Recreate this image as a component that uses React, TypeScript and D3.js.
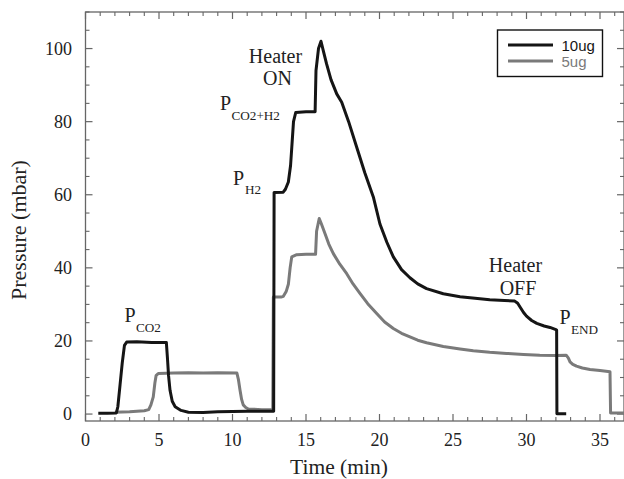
import React from "react";
import * as d3 from "d3";

const t10 = [0.87,1.5,2.1,2.2,2.35,2.5,2.65,2.8,3.5,4.5,5.5,5.58,5.65,5.75,5.9,6.1,6.5,7.0,8.0,9.0,10.0,11.0,12.0,12.8,12.83,13.45,13.6,13.8,13.95,14.05,14.15,14.3,15.0,15.62,15.68,15.85,16.02,16.2,16.4,16.7,17.09,17.43,17.9,18.45,19.0,19.58,20.03,20.5,20.94,21.5,22.07,22.6,23.2,24.34,25.48,26.5,27.5,28.5,29.2,29.4,29.56,29.8,30.0,30.35,30.7,31.2,31.6,32.0,32.05,32.07,32.7];
const p10 = [0.2,0.2,0.3,2,8,14,18.8,19.7,19.8,19.6,19.6,15,10.5,6.5,3.5,2,1,0.5,0.4,0.6,0.7,0.8,0.8,0.8,60.6,60.7,61.5,63.5,68,74,80,82.5,82.7,82.7,94,100,102,99,95.8,91.5,87.6,85.3,80,73,66,59.4,52,47,43,39.5,37.3,35.6,34.3,32.9,32.1,31.7,31.3,31.1,30.9,30.3,29.3,27.8,26.8,25.6,24.8,24.1,23.7,23.1,23,0.1,0.1];

const t5 = [2.0,3.0,4.0,4.3,4.45,4.61,4.72,4.8,4.95,6,7,8,9,10.3,10.4,10.51,10.62,10.73,10.9,11.08,12.0,12.74,12.78,13.3,13.46,13.65,13.8,13.92,14.03,14.37,15.0,15.65,15.72,15.9,16.05,16.29,16.55,16.86,17.3,17.77,18.2,18.67,19.2,19.81,20.35,20.94,21.5,22.07,22.6,23.2,24.34,25.48,26.38,27.5,28.65,29.8,30.9,32.0,32.7,32.85,32.96,33.15,33.4,33.8,34.32,35.0,35.68,35.72,36.7];
const p5 = [0.5,0.6,0.9,1.2,2.5,4.7,8.5,10.5,11.1,11.2,11.3,11.2,11.3,11.2,9.5,6.6,4,2.5,1.8,1.4,1.2,1.2,32,32,32.2,33.5,35.5,40,43,43.6,43.7,43.7,50,53.5,52,49.4,46.5,43.9,41,38.4,35.6,33,30.2,27.5,25.2,23.4,22.1,21.1,20.2,19.5,18.5,17.8,17.3,16.9,16.6,16.3,16.1,16.0,16.1,15.3,14.3,13.6,13.1,12.6,12.2,11.9,11.6,0.3,0.3];

const xMajor = [0,5,10,15,20,25,30,35];
const yMajor = [0,20,40,60,80,100];
const seriesNames = ["10ug","5ug"];

const W = 624, H = 479;
const L = 85.5, R = 624, T = 12, B = 421;
const SERIF = "'Liberation Serif','Times New Roman',serif";
const SANS = "'Liberation Sans',Arial,sans-serif";
const AX = "#666";

export default function App() {
  const x = d3.scaleLinear().domain([0, (R - L) / 14.7]).range([L, R]);
  const y = d3.scaleLinear().domain([-1.9, 110]).range([B, T]);
  const line = d3.line<[number, number]>().x(d => x(d[0])).y(d => y(d[1]));
  const d10 = line(t10.map((t, i) => [t, p10[i]] as [number, number])) || "";
  const d5 = line(t5.map((t, i) => [t, p5[i]] as [number, number])) || "";
  const xMinor = d3.range(0, 37, 1).filter(v => v % 5 !== 0);
  const yMinor = d3.range(0, 111, 5).filter(v => v % 20 !== 0);
  return (
    <div style={{ position: "fixed", left: 0, top: 0, width: W, height: H, background: "#fff" }}>
      <svg width={W} height={H} style={{ display: "block" }}>
        <rect x={0} y={0} width={W} height={H} fill="#fff" />
        {/* frame */}
        <rect x={L} y={T} width={R - L} height={B - T} fill="none" stroke={AX} strokeWidth={1.3} />
        {/* x ticks */}
        {xMajor.map(v => (
          <g key={"xm" + v}>
            <line x1={x(v)} x2={x(v)} y1={B} y2={B - 7} stroke={AX} strokeWidth={1.2} />
            <line x1={x(v)} x2={x(v)} y1={T} y2={T + 7} stroke={AX} strokeWidth={1.2} />
            <text x={x(v)} y={446} textAnchor="middle" fontFamily={SERIF} fontSize={18} fill="#222">{v}</text>
          </g>
        ))}
        {xMinor.map(v => (
          <g key={"xn" + v}>
            <line x1={x(v)} x2={x(v)} y1={B} y2={B - 4} stroke={AX} strokeWidth={1.1} />
            <line x1={x(v)} x2={x(v)} y1={T} y2={T + 4} stroke={AX} strokeWidth={1.1} />
          </g>
        ))}
        {yMajor.map(v => (
          <g key={"ym" + v}>
            <line x1={L} x2={L + 7} y1={y(v)} y2={y(v)} stroke={AX} strokeWidth={1.2} />
            <line x1={R} x2={R - 7} y1={y(v)} y2={y(v)} stroke={AX} strokeWidth={1.2} />
            <text x={72} y={y(v) + 6} textAnchor="end" fontFamily={SERIF} fontSize={18} fill="#222">{v}</text>
          </g>
        ))}
        {yMinor.map(v => (
          <g key={"yn" + v}>
            <line x1={L} x2={L + 4} y1={y(v)} y2={y(v)} stroke={AX} strokeWidth={1.1} />
            <line x1={R} x2={R - 4} y1={y(v)} y2={y(v)} stroke={AX} strokeWidth={1.1} />
          </g>
        ))}
        {/* axis titles */}
        <text x={339} y={474} textAnchor="middle" fontFamily={SERIF} fontSize={21.5} fill="#222">Time (min)</text>
        <text transform="translate(26,230) rotate(-90)" textAnchor="middle" fontFamily={SERIF} fontSize={22} fill="#222">Pressure (mbar)</text>
        {/* series */}
        <path d={d5} fill="none" stroke="#7a7a7a" strokeWidth={3} strokeLinejoin="round" />
        <path d={d10} fill="none" stroke="#151515" strokeWidth={3} strokeLinejoin="round" />
        {/* annotations */}
        <g fontFamily={SERIF} fill="#222">
          <text x={275.5} y={63} fontSize={20} textAnchor="middle">Heater</text>
          <text x={277.5} y={85} fontSize={20} textAnchor="middle">ON</text>
          <text x={220} y={110} fontSize={20}>P</text>
          <text x={231.5} y={119.5} fontSize={13.2}>CO2+H2</text>
          <text x={233} y={185} fontSize={20}>P</text>
          <text x={245} y={194} fontSize={13.2}>H2</text>
          <text x={124.5} y={321.5} fontSize={20}>P</text>
          <text x={136} y={331.5} fontSize={13.2}>CO2</text>
          <text x={515.5} y={272} fontSize={20} textAnchor="middle">Heater</text>
          <text x={518} y={295} fontSize={20} textAnchor="middle">OFF</text>
          <text x={559.5} y={323.5} fontSize={20}>P</text>
          <text x={571} y={333.5} fontSize={13.2}>END</text>
        </g>
        {/* legend */}
        <rect x={497.5} y={30} width={105} height={46.5} fill="#fff" stroke="#111" strokeWidth={1.4} />
        <line x1={508} x2={553} y1={45} y2={45} stroke="#151515" strokeWidth={3} />
        <line x1={508} x2={553} y1={61} y2={61} stroke="#7a7a7a" strokeWidth={3} />
        <text x={561.5} y={50.5} fontFamily={SANS} fontSize={15} fill="#151515">{seriesNames[0]}</text>
        <text x={561.5} y={66.5} fontFamily={SANS} fontSize={15} fill="#7a7a7a">{seriesNames[1]}</text>
      </svg>
    </div>
  );
}
